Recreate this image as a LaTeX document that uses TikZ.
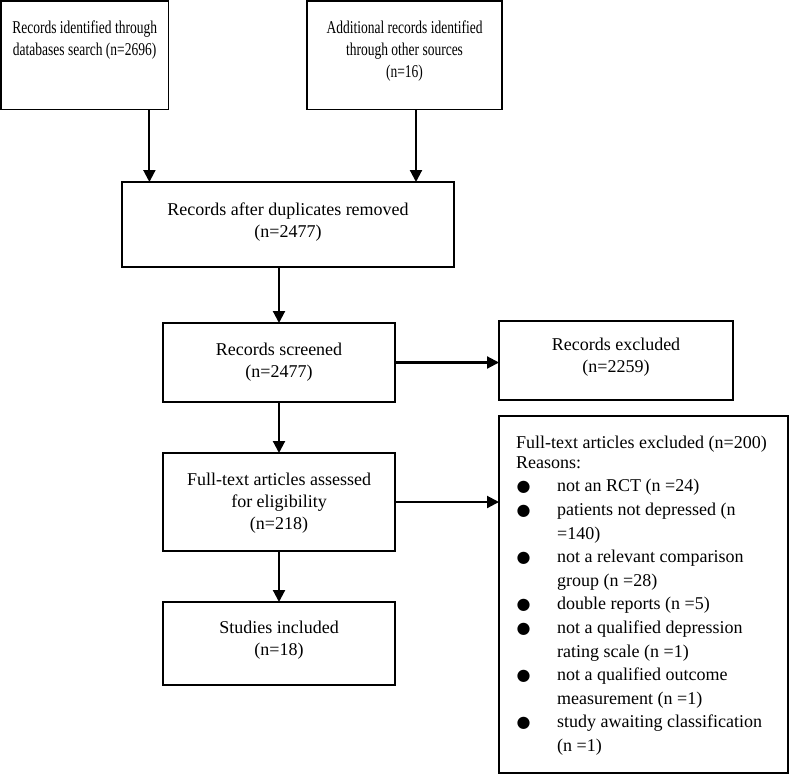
\documentclass[tikz,border=0pt]{standalone}
\usepackage{fontspec}
\setmainfont{Liberation Serif}
\newfontfamily\condfont[FakeStretch=0.75]{Liberation Serif}
\newfontfamily\bulfont{DejaVu Sans}
\usetikzlibrary{arrows.meta,calc}
\newcommand{\blt}{\makebox[41pt][l]{\hspace{0.5pt}{\bulfont\fontsize{16}{20}\selectfont ●}}}
\newcommand{\ind}{\hspace*{41pt}}
\begin{document}
\begin{tikzpicture}[x=1pt,y=-1pt,
  box/.style={draw, line width=1.8pt, rectangle, inner sep=0pt, outer sep=0pt, anchor=north west},
  txt/.style={anchor=north, inner sep=0pt, align=center, font=\fontsize{18}{22}\selectfont},
  toptxt/.style={anchor=north, inner sep=0pt, align=center, font=\condfont\fontsize{18}{22}\selectfont},
  arr/.style={line width=2.1pt, -{Triangle[length=12pt,width=12pt]}}]
\useasboundingbox (0,0) rectangle (789,774);

% boxes
\node[box, minimum width=167.5pt, minimum height=108.5pt] (b1) at (0.9,0.9) {};
\node[box, minimum width=195pt, minimum height=108.5pt] (b2) at (307,0.9) {};
\node[box, minimum width=332pt, minimum height=85pt] (b3) at (122,182) {};
\node[box, minimum width=232pt, minimum height=79pt] (b4) at (163,323) {};
\node[box, minimum width=232pt, minimum height=98pt] (b5) at (163,453) {};
\node[box, minimum width=232pt, minimum height=83pt] (b6) at (163,602) {};
\node[box, minimum width=234pt, minimum height=79pt] (rex) at (499,321) {};
\node[box, minimum width=289pt, minimum height=357pt] (fex) at (499,416) {};

% texts
\node[toptxt] (t1) at ($(b1.north)+(0,19.5)$) {Records identified through\\databases search (n=2696)};
\node[toptxt] (t2) at ($(b2.north)+(0,19.5)$) {Additional records identified\\through other sources\\(n=16)};
\node[txt] (t3) at ($(b3.north)+(0,20.5)$) {Records after duplicates removed\\(n=2477)};
\node[txt] (t4) at ($(b4.north)+(0,19.5)$) {Records screened\\(n=2477)};
\node[txt] (t5) at ($(b5.north)+(0,19.5)$) {Full-text articles assessed\\for eligibility\\(n=218)};
\node[txt] (t6) at ($(b6.north)+(0,18.5)$) {Studies included\\(n=18)};
\node[txt] (trex) at ($(rex.north)+(0,16.5)$) {Records excluded\\(n=2259)};
\node[anchor=north west, inner sep=0pt, align=left, font=\fontsize{18}{23.6}\selectfont] (tfex) at ($(fex.north west)+(17,19.5)$)
 {Full-text articles excluded (n=200)\\[-3.6pt]
  Reasons:\\
  \blt not an RCT (n =24)\\
  \blt patients not depressed (n\\
  \ind =140)\\
  \blt not a relevant comparison\\
  \ind group (n =28)\\
  \blt double reports (n =5)\\
  \blt not a qualified depression\\
  \ind rating scale (n =1)\\
  \blt not a qualified outcome\\
  \ind measurement (n =1)\\
  \blt study awaiting classification\\
  \ind (n =1)};

% connectors
\coordinate (a1) at ($(b1.south west)+(148.5,0)$);
\coordinate (a2) at ($(b2.south west)+(109,0)$);
\draw[arr] (a1) -- (a1 |- b3.north);
\draw[arr] (a2) -- (a2 |- b3.north);
\draw[arr] (b3.south -| b4.north) -- (b4.north);
\draw[arr] (b4.east) -- (rex.west |- b4.east);
\draw[arr] (b4.south) -- (b5.north);
\draw[arr] (b5.east) -- (fex.west |- b5.east);
\draw[arr] (b5.south) -- (b6.north);
\end{tikzpicture}
\end{document}
